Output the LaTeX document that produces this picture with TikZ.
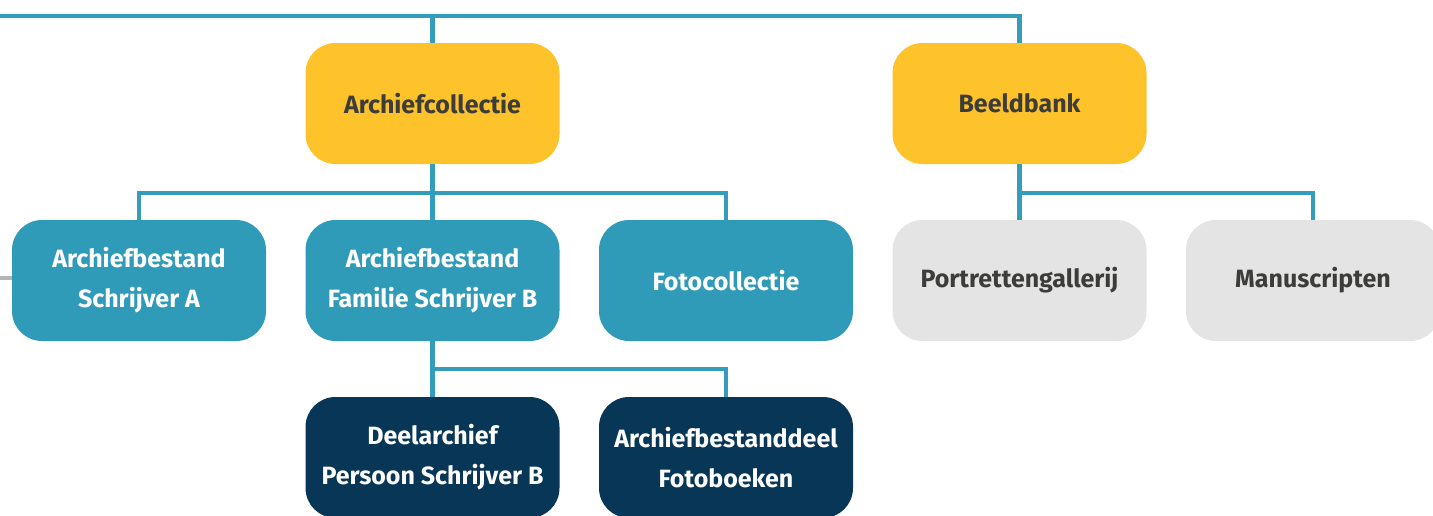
\documentclass[tikz,border=0pt]{standalone}
\usepackage{fontspec}
\setmainfont{Fira Sans}
\definecolor{teal}{HTML}{2F9BB9}
\definecolor{lineteal}{HTML}{349DBC}
\definecolor{gold}{HTML}{FEC22A}
\definecolor{navy}{HTML}{073656}
\definecolor{lgray}{HTML}{E3E4E3}
\definecolor{dtext}{HTML}{3C3C3B}
\definecolor{gline}{HTML}{B4B4B4}
\tikzset{
  box/.style={rounded corners=30pt, minimum width=254pt, minimum height=121pt, inner sep=0pt, align=center, font=\bfseries\fontsize{25}{40}\selectfont},
  goldbox/.style={box, fill=gold, text=dtext},
  tealbox/.style={box, fill=teal, text=white},
  navybox/.style={box, fill=navy, text=white},
  graybox/.style={box, fill=lgray, text=dtext},
  conn/.style={draw=lineteal, line width=4.5pt, line join=miter},
}
\begin{document}
\begin{tikzpicture}[x=1pt,y=-1pt]
\useasboundingbox (0,0) rectangle (1433,515);
\coordinate (tl) at (0,16);
\coordinate (bus1) at (0,193);
\coordinate (bus2) at (0,369);
\coordinate (gl) at (0,278);
\node[goldbox] (coll) at (432.5,103.5) {Archiefcollectie};
\node[goldbox] (beeld) at (1019.5,103.5) {Beeldbank};
\node[tealbox] (A) at (139,280.5) {Archiefbestand\\Schrijver A};
\node[tealbox] (B) at (432.5,280.5) {Archiefbestand\\Familie Schrijver B};
\node[tealbox] (foto) at (726,280.5) {Fotocollectie};
\node[graybox] (port) at (1019.5,280.5) {Portrettengallerij};
\node[graybox] (manu) at (1313,280.5) {Manuscripten};
\node[navybox] (deel) at (432.5,457.5) {Deelarchief\\Persoon Schrijver B};
\node[navybox] (bdeel) at (726,457.5) {Archiefbestanddeel\\Fotoboeken};
\draw[conn] (tl) -| (beeld.north);
\draw[conn] (coll.north) -- (coll.north |- tl);
\draw[conn] (coll.south) -- (coll.south |- bus1);
\draw[conn] (A.north) |- (coll.south |- bus1) -| (foto.north);
\draw[conn] (coll.south |- bus1) -- (B.north);
\draw[conn] (beeld.south) -- (beeld.south |- bus1) -| (manu.north);
\draw[conn] (beeld.south |- bus1) -- (port.north);
\draw[conn] (B.south) -- (B.south |- bus2) -| (bdeel.north);
\draw[conn] (B.south |- bus2) -- (deel.north);
\draw[draw=gline, line width=4.5pt] (gl) -- (A.west |- gl);
\end{tikzpicture}
\end{document}
